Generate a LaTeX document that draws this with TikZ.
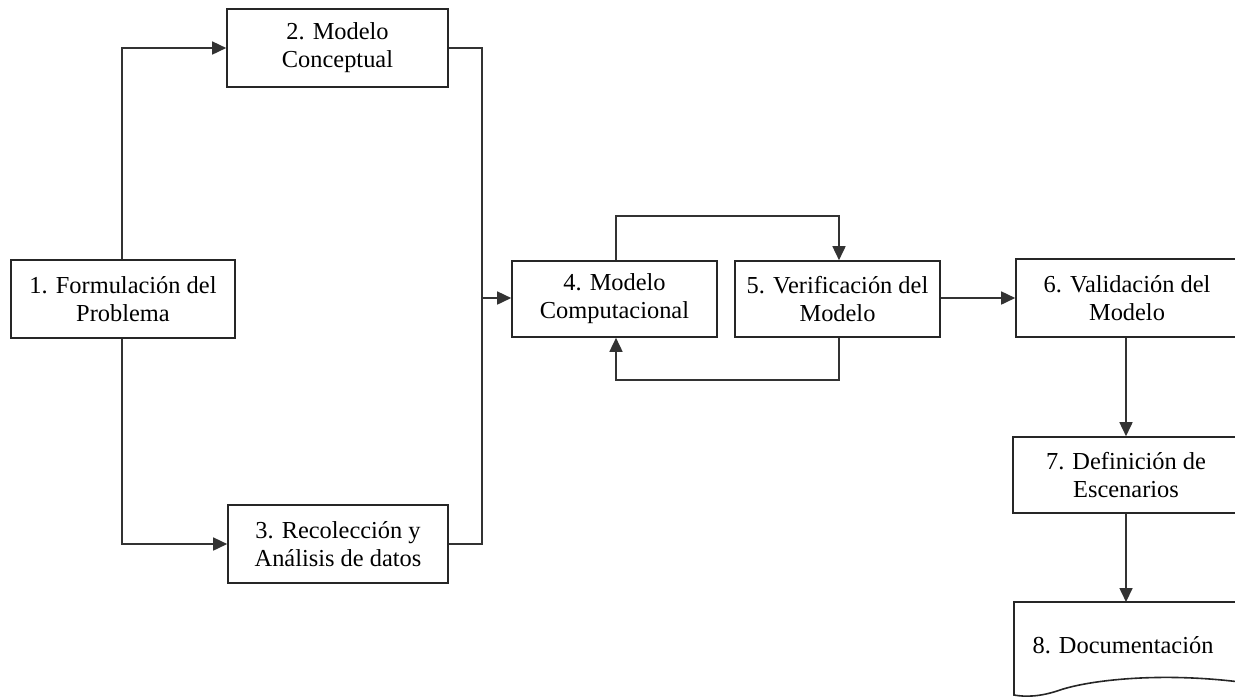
\documentclass[tikz,border=0pt]{standalone}
\usepackage{fontspec}
\setmainfont{Liberation Serif}
\usetikzlibrary{arrows.meta}
\begin{document}
\begin{tikzpicture}[x=0.5pt,y=-0.5pt,
  line width=0.8pt,
  every node/.style={font=\fontsize{12.2}{14}\selectfont, align=center, inner sep=0pt},
  stepbox/.style={draw=black!85, line width=0.8pt, fill=white},
  link/.style={draw=black!80, line width=0.8pt},
  arr/.style={link, -{Triangle[length=7pt,width=6.5pt]}}]
\useasboundingbox (0,0) rectangle (1235,698);
\clip (0,0) rectangle (1235,698);

% process boxes
\node[stepbox, minimum width=112pt, minimum height=39pt] (p1) at (123,299) {1. Formulación del\\Problema};
\node[stepbox, minimum width=110.5pt, minimum height=39pt] (p2) at (337.5,48) {2. Modelo\\Conceptual};
\node[stepbox, minimum width=110pt, minimum height=39pt] (p3) at (338,544) {3. Recolección y\\Análisis de datos};
\node[stepbox, minimum width=102.5pt, minimum height=38pt] (p4) at (614.5,299) {4. Modelo\\Computacional};
\node[stepbox, minimum width=102.5pt, minimum height=38pt] (p5) at (837.5,299) {5. Verificación del\\Modelo};
\node[stepbox, minimum width=111pt, minimum height=39pt] (p6) at (1127,298) {6. Validación del\\Modelo};
\node[stepbox, minimum width=113pt, minimum height=38pt] (p7) at (1126,475) {7. Definición de\\Escenarios};

% document shape with wavy bottom
\draw[stepbox] (1014,602) -- (1240,602) -- (1240,682)
  .. controls (1160,672) and (1090,680) .. (1060,690)
  .. controls (1040,697) and (1025,697) .. (1014,695) -- cycle;
\node (p8) at (1123,645) {8. Documentación};

% junction points
\coordinate (jt) at (122,48);
\coordinate (jb) at (122,544);
\coordinate (jr) at (482,298);

% connectors
\draw[arr] (p1.north -| jt) -- (jt) -- (p2.west);
\draw[arr] (p1.south -| jb) -- (jb) -- (p3.west);
\draw[link] (p2.east) -| (jr) |- (p3.east);
\draw[arr] (jr) -- (p4.west |- jr);

\coordinate (lt) at (616,216);
\coordinate (lb) at (616,380);
\draw[arr] (p4.north -| lt) -- (lt) -- (lt -| 839,0) -- (p5.north -| 839,0);
\draw[arr] (p5.south -| 839,0) -- (lb -| 839,0) -- (lb) -- (p4.south -| lb);

\draw[arr] (p5.east |- 0,298) -- (p6.west |- 0,298);
\draw[arr] (p6.south -| 1126,0) -- (p7.north -| 1126,0);
\draw[arr] (p7.south -| 1126,0) -- (1126,602);
\end{tikzpicture}
\end{document}
